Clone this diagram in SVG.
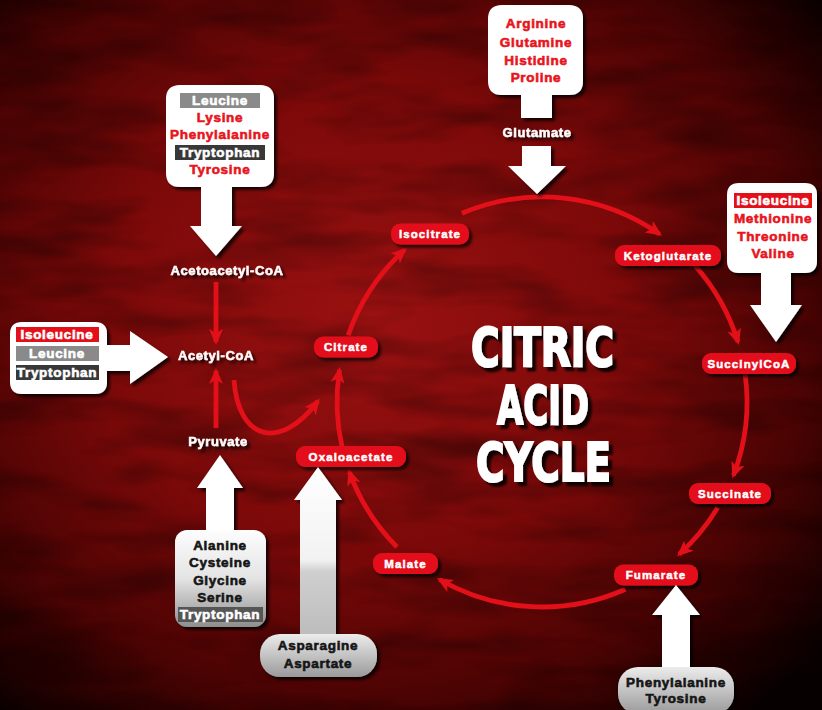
<svg xmlns="http://www.w3.org/2000/svg" width="822" height="710" viewBox="0 0 822 710">
<defs>
  <radialGradient id="bg" cx="0.45" cy="0.45" r="0.72">
    <stop offset="0" stop-color="#9a1111"/>
    <stop offset="0.45" stop-color="#7c0909"/>
    <stop offset="0.75" stop-color="#4a0303"/>
    <stop offset="1" stop-color="#080000"/>
  </radialGradient>
  <linearGradient id="gBox" x1="0" y1="0" x2="0" y2="1">
    <stop offset="0" stop-color="#fdfdfd"/>
    <stop offset="0.5" stop-color="#e4e4e4"/>
    <stop offset="1" stop-color="#8e8e8e"/>
  </linearGradient>
  <linearGradient id="gPill" x1="0" y1="0" x2="0" y2="1">
    <stop offset="0" stop-color="#ececec"/>
    <stop offset="1" stop-color="#9a9a9a"/>
  </linearGradient>
  <linearGradient id="gStem" x1="0" y1="0" x2="0" y2="1">
    <stop offset="0" stop-color="#ffffff"/>
    <stop offset="0.55" stop-color="#f2f2f2"/>
    <stop offset="0.62" stop-color="#cfcfcf"/>
    <stop offset="1" stop-color="#bcbcbc"/>
  </linearGradient>
  <filter id="grunge" x="0" y="0" width="100%" height="100%">
    <feTurbulence type="fractalNoise" baseFrequency="0.008 0.03" numOctaves="3" seed="7"/>
    <feColorMatrix type="matrix" values="0 0 0 0 0  0 0 0 0 0  0 0 0 0 0  1.8 0 0 0 -0.75"/>
  </filter>
  <filter id="sh" x="-20%" y="-20%" width="150%" height="160%">
    <feDropShadow dx="3" dy="3" stdDeviation="1.5" flood-color="#000" flood-opacity="0.75"/>
  </filter>
  <filter id="tsh" x="-10%" y="-10%" width="130%" height="140%">
    <feDropShadow dx="4" dy="4" stdDeviation="1" flood-color="#000" flood-opacity="0.85"/>
  </filter>
  <marker id="ah" viewBox="0 0 16 16" refX="13" refY="8" markerWidth="16" markerHeight="16" markerUnits="userSpaceOnUse" orient="auto">
    <path d="M0,1 L16,8 L0,15 L4,8 Z" fill="#e3101a"/>
  </marker>
  <style>
    .flow { fill:none; stroke:#e3101a; stroke-width:4.8; marker-end:url(#ah); }
    .lbl rect { fill:#e3101a; filter:url(#sh); }
    .lbl text { fill:#fff; stroke:#fff; stroke-width:0.5px; font-family:"Liberation Sans", Arial, sans-serif; font-weight:bold; font-size:11.5px; letter-spacing:1.1px; text-anchor:middle; }
    .wbox { fill:#fff; filter:url(#sh); }
    .aa { font-family:"Liberation Sans", Arial, sans-serif; font-weight:bold; font-size:13.5px; letter-spacing:0.7px; text-anchor:middle; stroke-width:0.6px; }
    .red { fill:#e8141c; stroke:#e8141c; }
    .blk { fill:#151515; stroke:#151515; }
    .wht { fill:#fff; stroke:#fff; }
    .met { fill:#fff; stroke:#fff; stroke-width:0.5px; font-family:"Liberation Sans", Arial, sans-serif; font-weight:bold; font-size:13px; letter-spacing:0.6px; text-anchor:middle; filter:url(#sh); }
    .title { fill:#fff; stroke:#fff; stroke-width:2.2px; stroke-linejoin:miter; font-family:"DejaVu Sans", sans-serif; font-weight:bold; font-size:53px; filter:url(#tsh); }
  </style>
</defs>

<rect x="0" y="0" width="822" height="710" fill="url(#bg)"/>
<rect x="0" y="0" width="822" height="710" filter="url(#grunge)" opacity="0.45"/>

<!-- Title -->
<g id="title">
  <text class="title" x="471" y="366" textLength="143" lengthAdjust="spacingAndGlyphs">CITRIC</text>
  <text class="title" x="497" y="424" textLength="92" lengthAdjust="spacingAndGlyphs">ACID</text>
  <text class="title" x="476" y="481" textLength="135" lengthAdjust="spacingAndGlyphs">CYCLE</text>
</g>

<!-- Connectors -->
<g id="connectors">
  <path class="flow" d="M216,282 V342"/>
  <path class="flow" d="M216,428 V371"/>
  <path class="flow" d="M234,380 C238,440 280,452 318,401"/>
  <path class="flow" d="M348.2,335.3 A205,205 0 0 1 404.8,249.7"/>
  <path class="flow" d="M461.9,213.3 A205,205 0 0 1 659.6,234.1"/>
  <path class="flow" d="M694.3,264.8 A205,205 0 0 1 738.0,342.1"/>
  <path class="flow" d="M745.0,373.5 A205,205 0 0 1 733.4,475.5"/>
  <path class="flow" d="M717.7,507.6 A205,205 0 0 1 679.2,554.3"/>
  <path class="flow" d="M625.4,589.3 A205,205 0 0 1 439.5,579.5"/>
  <path class="flow" d="M397.0,547.0 A205,205 0 0 1 349.4,472.1"/>
  <path class="flow" d="M342.3,448.1 A205,205 0 0 1 339.5,369.9"/>
</g>

<!-- Metabolite texts -->
<g id="acetoacetyl-coa"><text class="met" x="227" y="275">Acetoacetyl-CoA</text></g>
<g id="acetyl-coa"><text class="met" x="216" y="360">Acetyl-CoA</text></g>
<g id="pyruvate"><text class="met" x="218" y="446">Pyruvate</text></g>

<!-- Cycle labels -->
<g id="citrate" class="lbl"><rect x="314" y="336.5" width="64" height="21" rx="9"/><text x="346" y="351">Citrate</text></g>
<g id="isocitrate" class="lbl"><rect x="391" y="223.5" width="78" height="21" rx="9"/><text x="430" y="238">Isocitrate</text></g>
<g id="ketoglutarate" class="lbl"><rect x="615" y="245" width="106" height="21" rx="9"/><text x="668" y="259.5">Ketoglutarate</text></g>
<g id="succinylcoa" class="lbl"><rect x="702" y="353" width="94" height="21" rx="9"/><text x="749" y="367.5">SuccinylCoA</text></g>
<g id="succinate" class="lbl"><rect x="689" y="483" width="82" height="21" rx="9"/><text x="730" y="497.5">Succinate</text></g>
<g id="fumarate" class="lbl"><rect x="614" y="564.5" width="84" height="21" rx="9"/><text x="656" y="579">Fumarate</text></g>
<g id="malate" class="lbl"><rect x="373" y="553" width="65" height="21" rx="9"/><text x="405.5" y="567.5">Malate</text></g>
<g id="oxaloacetate" class="lbl"><rect x="296" y="446" width="110" height="21" rx="9"/><text x="351" y="460.5">Oxaloacetate</text></g>

<!-- Amino acid sources -->
<g id="src-acetoacetyl">
  <path class="wbox" d="M180,85 H260 Q274,85 274,99 V173 Q274,187 260,187 H232 V226 H242 L216,256 L190,226 H201 V187 H180 Q166,187 166,173 V99 Q166,85 180,85 Z"/>
  <rect x="180" y="93" width="80" height="15" fill="#8a8a8a"/>
  <text class="aa wht" x="220" y="105">Leucine</text>
  <text class="aa red" x="220" y="122">Lysine</text>
  <text class="aa red" x="220" y="139">Phenylalanine</text>
  <rect x="175" y="145" width="90" height="15" fill="#383838"/>
  <text class="aa wht" x="220" y="157">Tryptophan</text>
  <text class="aa red" x="220" y="174">Tyrosine</text>
</g>

<g id="src-acetyl">
  <path class="wbox" d="M22,322 H95 Q107,322 107,334 V345 H130 V331 L168,357 L130,384 V371 H107 V382 Q107,394 95,394 H22 Q10,394 10,382 V334 Q10,322 22,322 Z"/>
  <rect x="16" y="327" width="83" height="15" fill="#e3101a"/>
  <text class="aa wht" x="57" y="339">Isoleucine</text>
  <rect x="16" y="346" width="83" height="15" fill="#8a8a8a"/>
  <text class="aa wht" x="57" y="358">Leucine</text>
  <rect x="16" y="365" width="83" height="15" fill="#383838"/>
  <text class="aa wht" x="57" y="377">Tryptophan</text>
</g>

<g id="src-glutamate">
  <path class="wbox" d="M502,5 H569 Q583,5 583,19 V81 Q583,95 569,95 H552 V118 H521 V95 H502 Q488,95 488,81 V19 Q488,5 502,5 Z"/>
  <path class="wbox" d="M522,146 H551 V166 H566 L537,194 L508,166 H522 Z"/>
  <text class="aa red" x="536" y="28">Arginine</text>
  <text class="aa red" x="536" y="47">Glutamine</text>
  <text class="aa red" x="536" y="65">Histidine</text>
  <text class="aa red" x="536" y="82">Proline</text>
  <text class="met" x="537" y="137">Glutamate</text>
</g>

<g id="src-succinylcoa">
  <path class="wbox" d="M739,183 H805 Q817,183 817,195 V261 Q817,273 805,273 H791 V305 H802 L776,342 L750,305 H761 V273 H739 Q727,273 727,261 V195 Q727,183 739,183 Z"/>
  <rect x="734" y="193" width="78" height="15" fill="#e3101a"/>
  <text class="aa wht" x="773" y="205">Isoleucine</text>
  <text class="aa red" x="773" y="223">Methionine</text>
  <text class="aa red" x="773" y="241">Threonine</text>
  <text class="aa red" x="773" y="258">Valine</text>
</g>

<g id="src-pyruvate">
  <path d="M206,532 V488 H197 L220,455 L243,488 H234 V532 Z" fill="#fff" filter="url(#sh)"/>
  <rect x="175" y="530" width="91" height="97" rx="12" fill="url(#gBox)" filter="url(#sh)"/>
  <text class="aa blk" x="220" y="550">Alanine</text>
  <text class="aa blk" x="220" y="567">Cysteine</text>
  <text class="aa blk" x="220" y="585">Glycine</text>
  <text class="aa blk" x="220" y="602">Serine</text>
  <rect x="178" y="607" width="85" height="15" fill="#555"/>
  <text class="aa wht" x="220" y="619">Tryptophan</text>
</g>

<g id="src-oxaloacetate">
  <path d="M300,636 V500 H294 L318,467 L342,500 H336 V636 Z" fill="url(#gStem)" filter="url(#sh)"/>
  <rect x="260" y="634" width="117" height="43" rx="20" fill="url(#gPill)" filter="url(#sh)"/>
  <text class="aa blk" x="318" y="650">Asparagine</text>
  <text class="aa blk" x="318" y="668">Aspartate</text>
</g>

<g id="src-fumarate">
  <path d="M662,670 V615 H652 L676,585 L700,615 H690 V670 Z" fill="#fff" filter="url(#sh)"/>
  <rect x="618" y="667" width="116" height="47" rx="20" fill="url(#gPill)" filter="url(#sh)"/>
  <text class="aa blk" x="676" y="687">Phenylalanine</text>
  <text class="aa blk" x="676" y="703">Tyrosine</text>
</g>
</svg>
